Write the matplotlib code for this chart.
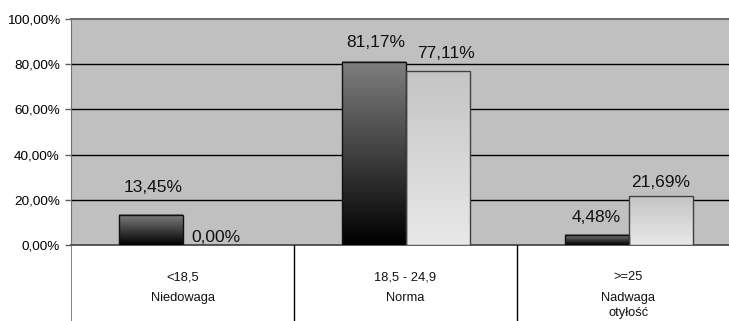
import numpy as np
import matplotlib
matplotlib.use("Agg")
import matplotlib.pyplot as plt
from matplotlib.patches import Rectangle
from matplotlib.transforms import offset_copy

plt.rcParams['font.family'] = ['Liberation Sans', 'DejaVu Sans']

# ---- data ----
ranges = ["<18,5", "18,5 - 24,9", ">=25"]
names = ["Niedowaga", "Norma", "Nadwaga\notyłość"]
series_dark = [13.45, 81.17, 4.48]
series_light = [0.00, 77.11, 21.69]
yticks = [0, 20, 40, 60, 80, 100]

# ---- style / layout ----
W, H = 729, 321
fig = plt.figure(figsize=(W / 100, H / 100), dpi=100)
left_px, right_px, top_px, base_px = 71, 740, 19, 245
ax = fig.add_axes([left_px / W, (H - base_px) / H, (right_px - left_px) / W, (base_px - top_px) / H])
ax.set_facecolor('#c0c0c0')

bw = 64 / 223.0
dark_top, dark_bot = np.array([0.50, 0.50, 0.50]), np.array([0.0, 0.0, 0.0])
light_top, light_bot = np.array([0.77, 0.77, 0.77]), np.array([0.91, 0.91, 0.91])


def grad_bar(x0, x1, h, top, bot, edge):
    if h > 0:
        t = np.linspace(0, 1, 256)[:, None, None]
        img = bot[None, None, :] + (top - bot)[None, None, :] * t
        ax.imshow(img, extent=[x0, x1, 0, h], origin='lower', aspect='auto',
                  interpolation='bilinear', zorder=3)
    ax.add_patch(Rectangle((x0, 0), x1 - x0, h, fill=False, edgecolor=edge, lw=1.0, zorder=4))


# label offsets (pixels): x shift, y distance of label centre above bar top
dark_off = [(3, 27), (2, 19), (0, 17)]
light_off = [(1, 8), (8, 17), (0, 13)]

for i, (d, l) in enumerate(zip(series_dark, series_light)):
    grad_bar(i - bw, i, d, dark_top, dark_bot, '#101010')
    grad_bar(i, i + bw, l, light_top, light_bot, '#404040')
    for val, xc, (dx, dy) in ((d, i - bw / 2, dark_off[i]), (l, i + bw / 2, light_off[i])):
        tr = offset_copy(ax.transData, fig=fig, x=dx * 0.72, y=dy * 0.72, units='points')
        ax.text(xc, val, f"{val:.2f}%".replace('.', ','), transform=tr,
                ha='center', va='center', fontsize=12.5, color='#111111', zorder=5)

ax.set_xlim(-0.5, 2.5)
ax.set_ylim(0, 100)
ax.set_yticks(yticks)
ax.set_yticklabels([f"{v:.2f}%".replace('.', ',') for v in yticks], fontsize=9.7)
ax.set_xticks([])
for v in yticks[1:-1]:
    ax.axhline(v, color='black', lw=1.0, zorder=1)
ax.tick_params(axis='y', length=4, width=1, color='#606060', pad=4)
for s in ['right']:
    ax.spines[s].set_visible(False)
ax.spines['top'].set_color('#707070')
ax.spines['top'].set_linewidth(1.5)
ax.spines['left'].set_color('#707070')
ax.spines['bottom'].set_color('#404040')
ax.spines['bottom'].set_linewidth(1.2)

# ---- category table below ----
ax2 = fig.add_axes([left_px / W, 0, (right_px - left_px) / W, (H - base_px) / H])
ax2.set_xlim(-0.5, 2.5)
ax2.set_ylim(0, H - base_px)
ax2.axis('off')
ax2.axvline(-0.5, color='#707070', lw=1.2)
for b in [0.5, 1.5]:
    ax2.axvline(b, color='black', lw=1.0)
for i, (r, n) in enumerate(zip(ranges, names)):
    ax2.text(i, H - 277, r, ha='center', va='center', fontsize=9.3, color='#111111')
    ax2.text(i, H - 292, n, ha='center', va='top', fontsize=9.3, color='#111111',
             linespacing=1.3)

fig.savefig('out.png', dpi=100)
